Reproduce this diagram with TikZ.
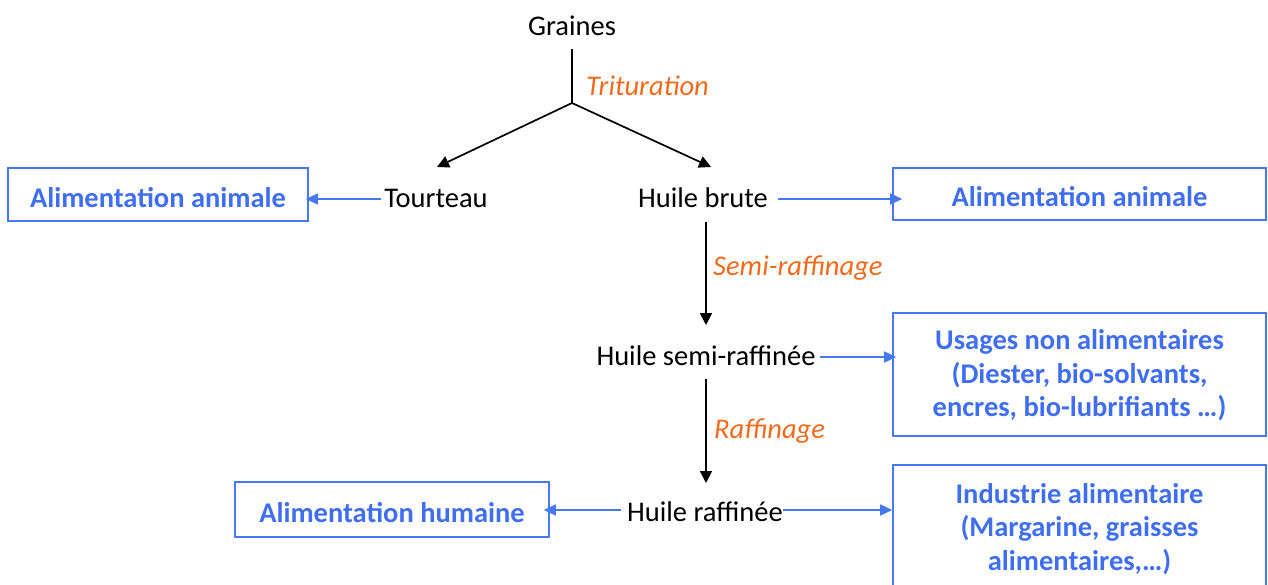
\documentclass[tikz,border=0pt]{standalone}
\usepackage{fontspec}
\setmainfont{Carlito}
\usetikzlibrary{arrows.meta}
\definecolor{bl}{HTML}{4579F2}
\definecolor{bltxt}{HTML}{3F6EF0}
\definecolor{org}{HTML}{F26A1B}
\newcommand{\lowr}[2]{\raisebox{-#1pt}[\height][\depth]{#2}}
\newcommand{\stk}[1]{\begin{tabular}{@{}c@{}}#1\end{tabular}}
\begin{document}
\begin{tikzpicture}[x=1pt,y=-1pt,
  txt/.style={font=\fontsize{28.5}{34}\selectfont, inner sep=0pt, text=black},
  lab/.style={font=\fontsize{28.5}{34}\selectfont\itshape, inner sep=0pt, text=org, anchor=west},
  bbox/.style={draw=bl, line width=1.6pt, font=\fontsize{28.5}{33.5}\selectfont\bfseries, text=bltxt, inner sep=0pt},
  blk/.style={draw=black, line width=1.7pt},
  blka/.style={blk, -{Triangle[length=12pt,width=12pt]}},
  bla/.style={draw=bl, line width=1.5pt, -{Triangle[length=12pt,width=11pt]}}
]
\clip (0,0) rectangle (1268,585);
\fill[white] (0,0) rectangle (1268,585);

% text nodes
\node[txt] (gr) at (572,26) {Graines};
\node[txt] (to) at (436,198) {Tourteau};
\node[txt] (hb) at (703,198) {Huile brute};
\node[txt] (hs) at (706,356) {Huile semi-raffinée};
\node[txt] (hr) at (705,512) {Huile raffinée};

% boxes
\node[bbox, minimum width=300, minimum height=53] (aa1) at (158,194.5) {\lowr{3}{Alimentation animale}};
\node[bbox, minimum width=373, minimum height=52] (aa2) at (1079.5,194) {\lowr{3}{Alimentation animale}};
\node[bbox, minimum width=373, minimum height=123] (us) at (1079.5,374.5) {\lowr{2}{\stk{Usages non alimentaires\\(Diester, bio-solvants,\\encres, bio-lubrifiants …)}}};
\node[bbox, minimum width=314, minimum height=55] (ah) at (392,509.5) {\lowr{3}{Alimentation humaine}};
\node[bbox, minimum width=373, minimum height=126] (ia) at (1079.5,528) {\lowr{2}{\stk{Industrie alimentaire\\(Margarine, graisses\\alimentaires,…)}}};

% labels
\node[lab] (tri) at (586,86) {Trituration};
\node[lab] (semi) at (713,268) {Semi-raffinage};
\node[lab] (raf) at (714,431) {Raffinage};

% coordinates
\coordinate (grb) at (572,49);
\coordinate (br) at (572,103);
\coordinate (toT) at (437,167);
\coordinate (hbT) at (711,167);
\coordinate (v1s) at (706,222);
\coordinate (v1e) at (706,325);
\coordinate (v2s) at (706,379);
\coordinate (v2e) at (706,483);

% black connectors
\draw[blk] (grb) -- (br);
\draw[blka] (br) -- (toT);
\draw[blka] (br) -- (hbT);
\draw[blka] (v1s) -- (v1e);
\draw[blka] (v2s) -- (v2e);

% blue connectors
\draw[bla] ([xshift=-3pt,yshift=-1pt]to.west) -- ([xshift=-3pt,yshift=-1pt]to.west -| aa1.east);
\draw[bla] ([xshift=10pt,yshift=-1pt]hb.east) -- ([xshift=10pt,yshift=-1pt]hb.east -| aa2.west);
\draw[bla] ([xshift=4pt,yshift=-1pt]hs.east) -- ([xshift=4pt,yshift=-1pt]hs.east -| us.west);
\draw[bla] ([xshift=-6pt,yshift=2pt]hr.west) -- ([xshift=-6pt,yshift=2pt]hr.west -| ah.east);
\draw[bla] ([yshift=2pt]hr.east) -- ([yshift=2pt]hr.east -| ia.west);
\end{tikzpicture}
\end{document}
